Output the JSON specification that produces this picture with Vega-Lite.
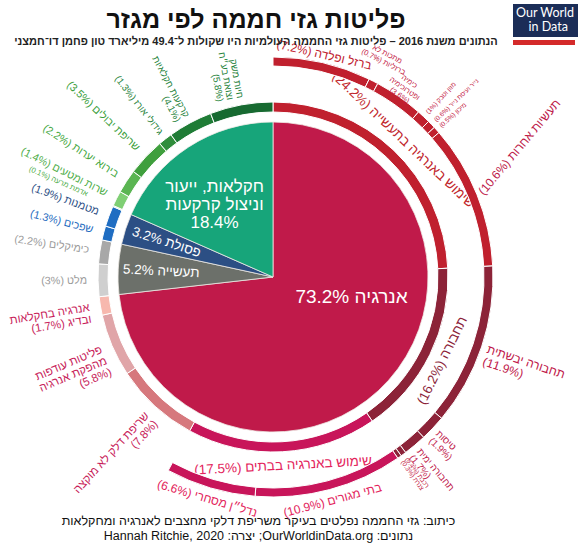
{
  "$schema": "https://vega.github.io/schema/vega-lite/v6.json",
  "width": 546,
  "height": 454,
  "autosize": "none",
  "padding": {"left": 0, "top": 50, "right": 34, "bottom": 45},
  "background": "white",
  "config": {"view": {"stroke": null}, "font": "Liberation Sans"},
  "title": {
    "text": "פליטות גזי חממה לפי מגזר",
    "subtitle": "הנתונים משנת 2016 – פליטות גזי החממה העולמיות היו שקולות ל־49.4 מיליארד טון פחמן דו־חמצני",
    "anchor": "middle",
    "frame": "group",
    "dx": -17,
    "offset": -43,
    "fontSize": 25,
    "fontWeight": "bold",
    "color": "#111111",
    "subtitleFontSize": 11,
    "subtitleFontWeight": "bold",
    "subtitleColor": "#222222",
    "subtitlePadding": 3
  },
  "datasets": {
    "pie": [
      {"name": "energy", "pct": 73.2, "label": "73.2% אנרגיה"},
      {"name": "industry", "pct": 5.2, "label": "5.2% תעשייה"},
      {"name": "waste", "pct": 3.2, "label": "3.2% פסולת"},
      {"name": "agri", "pct": 18.4, "label": "חקלאות, ייעור\nוניצול קרקעות\n18.4%"}
    ],
    "inner": [
      {"name": "en_industry", "pct": 24.2, "label": "(24.2%) שימוש באנרגיה בתעשייה"},
      {"name": "transport", "pct": 16.2, "label": "(16.2%) תחבורה"},
      {"name": "buildings", "pct": 17.5, "label": "(17.5%) שימוש באנרגיה בבתים"},
      {"name": "unallocated", "pct": 7.8, "label": "שריפת דלק לא מוקצה\n(7.8%)"},
      {"name": "fugitive", "pct": 5.8, "label": "פליטות עודפות\nמהפקת אנרגיה\n(5.8%)"},
      {"name": "agfish", "pct": 1.7, "label": "אנרגיה בחקלאות\n(1.7%) ובדיג"},
      {"name": "cement", "pct": 3.0, "label": "(3%) מלט"},
      {"name": "chemicals", "pct": 2.2, "label": "(2.2%) כימיקלים"},
      {"name": "wastewater", "pct": 1.3, "label": "(1.3%) שפכים"},
      {"name": "landfills", "pct": 1.9, "label": "(1.9%) מטמנות"},
      {"name": "grassland", "pct": 0.1, "label": "(0.1%) אדמת מרעה"},
      {"name": "cropland", "pct": 1.4, "label": "(1.4%) שרות ומטעים"},
      {"name": "deforestation", "pct": 2.2, "label": "(2.2%) בירוא יערות"},
      {"name": "cropburning", "pct": 3.5, "label": "(3.5%) שריפת יבולים"},
      {"name": "rice", "pct": 1.3, "label": "(1.3%) גידולי אורז"},
      {"name": "agsoils", "pct": 4.1, "label": "קרקעות חקלאיות\n(4.1%)"},
      {"name": "livestock", "pct": 5.8, "label": "חיות משק\nוצואת בע״ח\n(5.8%)"}
    ],
    "outer": [
      {"name": "iron_steel", "pct": 7.2, "label": "(7.2%) ברזל ופלדה"},
      {"name": "nonferrous", "pct": 0.7, "label": "מתכות לא\n(0.7%) ברזליות"},
      {"name": "chem", "pct": 3.6, "label": "כימיה\nופטרוכימיה\n(3.6%)"},
      {"name": "food", "pct": 1.0, "label": "(1%) מזון וטבק"},
      {"name": "paper", "pct": 0.6, "label": "(0.6%) נייר ועיסת נייר"},
      {"name": "machinery", "pct": 0.5, "label": "(0.5%) מיכון"},
      {"name": "otherind", "pct": 10.6, "label": "(10.6%) תעשיות אחרות"},
      {"name": "road", "pct": 11.9, "label": "תחבורה יבשתית\n(11.9%)"},
      {"name": "aviation", "pct": 1.9, "label": "טיסות\n(1.9%)"},
      {"name": "shipping", "pct": 1.7, "label": "תחבורה ימית\n(1.7%)"},
      {"name": "rail", "pct": 0.4, "label": "(0.4%) רכבת"},
      {"name": "pipeline", "pct": 0.3, "label": "(0.3%) צנרת"},
      {"name": "residential", "pct": 10.9, "label": "(10.9%) בתי מגורים"},
      {"name": "commercial", "pct": 6.6, "label": "(6.6%) נדל״ן מסחרי"}
    ]
  },
  "layer": [
    {
      "data": {"name": "pie"},
      "transform": [
        {"stack": "pct", "groupby": [], "as": ["v0", "v1"]},
        {"calculate": "(datum.v0 + datum.v1) / 2", "as": "mid"},
        {"calculate": "datum.mid * 3.6", "as": "deg"}
      ],
      "layer": [
        {
          "mark": {"type": "arc", "outerRadius": 155, "stroke": "#efebe6", "strokeWidth": 0.8},
          "encoding": {
            "theta": {"field": "v0", "type": "quantitative", "stack": null, "scale": {"domain": [0, 100]}},
            "theta2": {"field": "v1"},
            "fill": {
              "field": "name", "type": "nominal", "legend": null,
              "scale": {"domain": ["energy", "industry", "waste", "agri"], "range": ["#c01a4a", "#6c706a", "#2c4f84", "#17a57a"]}
            }
          }
        },
        {
          "transform": [{"filter": "datum.name === 'energy'"}],
          "mark": {"type": "text", "radius": 30, "align": "left", "baseline": "middle", "fontSize": 19, "fill": "white"},
          "encoding": {
            "theta": {"field": "mid", "type": "quantitative", "stack": null, "scale": {"domain": [0, 100]}},
            "text": {"field": "label"}
          }
        },
        {
          "transform": [{"filter": "datum.name === 'agri'"}],
          "mark": {"type": "text", "radius": 107, "align": "center", "baseline": "middle", "fontSize": 17, "lineBreak": "\n", "lineHeight": 18, "fill": "white"},
          "encoding": {
            "theta": {"field": "mid", "type": "quantitative", "stack": null, "scale": {"domain": [0, 100]}},
            "text": {"field": "label"}
          }
        },
        {
          "transform": [
            {"filter": {"field": "name", "oneOf": ["industry", "waste"]}},
            {"calculate": "datum.deg - 270", "as": "rot"}
          ],
          "mark": {"type": "text", "radius": 112, "align": "center", "baseline": "middle", "fontSize": 13.5, "fill": "white"},
          "encoding": {
            "theta": {"field": "mid", "type": "quantitative", "stack": null, "scale": {"domain": [0, 100]}},
            "angle": {"field": "rot", "type": "quantitative", "scale": null},
            "text": {"field": "label"}
          }
        }
      ]
    },
    {
      "data": {"name": "inner"},
      "transform": [
        {"stack": "pct", "groupby": [], "as": ["v0", "v1"]},
        {"calculate": "(datum.v0 + datum.v1) / 2", "as": "mid"},
        {"calculate": "datum.mid * 3.6", "as": "deg"},
        {"calculate": "datum.deg > 90 && datum.deg < 270 ? datum.deg - 180 : datum.deg", "as": "tan"},
        {"calculate": "datum.deg - 270", "as": "rad"}
      ],
      "layer": [
        {
          "mark": {"type": "arc", "innerRadius": 165, "outerRadius": 175, "stroke": "white", "strokeWidth": 1},
          "encoding": {
            "theta": {"field": "v0", "type": "quantitative", "stack": null, "scale": {"domain": [0, 100]}},
            "theta2": {"field": "v1"},
            "fill": {
              "field": "name", "type": "nominal", "legend": null,
              "scale": {
                "domain": ["en_industry", "transport", "buildings", "unallocated", "fugitive", "agfish", "cement", "chemicals", "wastewater", "landfills", "grassland", "cropland", "deforestation", "cropburning", "rice", "agsoils", "livestock"],
                "range": ["#c0202e", "#8c2338", "#c8155a", "#d6787d", "#e0a5a8", "#f7b8ae", "#cfcfcf", "#a8a8a8", "#1f6dc2", "#1f6dc2", "#a6dc9a", "#7fcf74", "#5ab552", "#3f9f3d", "#2f8d3b", "#1f7c36", "#176a31"]
              }
            }
          }
        },
        {
          "transform": [{"filter": {"field": "name", "oneOf": ["en_industry", "transport", "buildings"]}}],
          "mark": {"type": "text", "radius": 189, "align": "center", "baseline": "middle", "fontSize": 13.5},
          "encoding": {
            "theta": {"field": "mid", "type": "quantitative", "stack": null, "scale": {"domain": [0, 100]}},
            "angle": {"field": "tan", "type": "quantitative", "scale": null},
            "text": {"field": "label"},
            "color": {
              "field": "name", "type": "nominal", "legend": null,
              "scale": {
                "domain": ["en_industry", "transport", "buildings", "unallocated", "fugitive", "agfish", "cement", "chemicals", "wastewater", "landfills", "grassland", "cropland", "deforestation", "cropburning", "rice", "agsoils", "livestock"],
                "range": ["#c1272d", "#8c1f3a", "#e3245c", "#c81d5a", "#c81d5a", "#c81d5a", "#9b9b9b", "#9b9b9b", "#1f6cc0", "#2d4f85", "#4fae4a", "#4fae4a", "#45a83f", "#3a9e3a", "#2f8f3a", "#25823a", "#1f7a34"]
              }
            }
          }
        },
        {
          "transform": [{"filter": {"field": "name", "oneOf": ["unallocated", "fugitive", "agfish"]}}],
          "mark": {"type": "text", "radius": 186, "align": "right", "baseline": "middle", "fontSize": 11.5, "lineBreak": "\n", "lineHeight": 12, "fill": "#c81d5a"},
          "encoding": {
            "theta": {"field": "mid", "type": "quantitative", "stack": null, "scale": {"domain": [0, 100]}},
            "angle": {"field": "rad", "type": "quantitative", "scale": null},
            "text": {"field": "label"}
          }
        },
        {
          "transform": [{"filter": {"field": "name", "oneOf": ["cement", "chemicals", "wastewater", "landfills", "cropland", "deforestation", "cropburning"]}}],
          "mark": {"type": "text", "radius": 186, "align": "right", "baseline": "middle", "fontSize": 10.8},
          "encoding": {
            "theta": {"field": "mid", "type": "quantitative", "stack": null, "scale": {"domain": [0, 100]}},
            "angle": {"field": "rad", "type": "quantitative", "scale": null},
            "text": {"field": "label"},
            "color": {
              "field": "name", "type": "nominal", "legend": null,
              "scale": {
                "domain": ["en_industry", "transport", "buildings", "unallocated", "fugitive", "agfish", "cement", "chemicals", "wastewater", "landfills", "grassland", "cropland", "deforestation", "cropburning", "rice", "agsoils", "livestock"],
                "range": ["#c1272d", "#8c1f3a", "#e3245c", "#c81d5a", "#c81d5a", "#c81d5a", "#9b9b9b", "#9b9b9b", "#1f6cc0", "#2d4f85", "#4fae4a", "#4fae4a", "#45a83f", "#3a9e3a", "#2f8f3a", "#25823a", "#1f7a34"]
              }
            }
          }
        },
        {
          "transform": [{"filter": {"field": "name", "oneOf": ["rice", "agsoils", "livestock"]}}],
          "mark": {"type": "text", "radius": 182, "align": "right", "baseline": "middle", "fontSize": 9.5, "lineBreak": "\n", "lineHeight": 10, "fill": "#25823a"},
          "encoding": {
            "theta": {"field": "mid", "type": "quantitative", "stack": null, "scale": {"domain": [0, 100]}},
            "angle": {"field": "rad", "type": "quantitative", "scale": null},
            "text": {"field": "label"}
          }
        },
        {
          "transform": [{"filter": "datum.name === 'grassland'"}],
          "mark": {"type": "text", "radius": 203, "align": "right", "baseline": "middle", "fontSize": 7.5, "fill": "#4fae4a"},
          "encoding": {
            "theta": {"field": "mid", "type": "quantitative", "stack": null, "scale": {"domain": [0, 100]}},
            "angle": {"field": "rad", "type": "quantitative", "scale": null},
            "text": {"field": "label"}
          }
        }
      ]
    },
    {
      "data": {"name": "outer"},
      "transform": [
        {"stack": "pct", "groupby": [], "as": ["v0", "v1"]},
        {"calculate": "(datum.v0 + datum.v1) / 2", "as": "mid"},
        {"calculate": "datum.mid * 3.6", "as": "deg"},
        {"calculate": "datum.deg > 90 && datum.deg < 270 ? datum.deg - 180 : datum.deg", "as": "tan"},
        {"calculate": "datum.deg - 90", "as": "rad"}
      ],
      "layer": [
        {
          "mark": {"type": "arc", "innerRadius": 211, "outerRadius": 220, "stroke": "white", "strokeWidth": 1},
          "encoding": {
            "theta": {"field": "v0", "type": "quantitative", "stack": null, "scale": {"domain": [0, 100]}},
            "theta2": {"field": "v1"},
            "fill": {
              "field": "name", "type": "nominal", "legend": null,
              "scale": {
                "domain": ["iron_steel", "nonferrous", "chem", "food", "paper", "machinery", "otherind", "road", "aviation", "shipping", "rail", "pipeline", "residential", "commercial"],
                "range": ["#c0202e", "#c0202e", "#c0202e", "#c0202e", "#c0202e", "#c0202e", "#c0202e", "#8c2338", "#8c2338", "#8c2338", "#8c2338", "#8c2338", "#c8155a", "#c8155a"]
              }
            }
          }
        },
        {
          "transform": [{"filter": "datum.name === 'iron_steel'"}],
          "mark": {"type": "text", "radius": 228, "align": "center", "baseline": "middle", "fontSize": 12, "fill": "#c0202e"},
          "encoding": {
            "theta": {"field": "mid", "type": "quantitative", "stack": null, "scale": {"domain": [0, 100]}},
            "angle": {"field": "tan", "type": "quantitative", "scale": null},
            "text": {"field": "label"}
          }
        },
        {
          "transform": [{"filter": "datum.name === 'nonferrous'"}],
          "mark": {"type": "text", "radius": 250, "align": "center", "baseline": "middle", "fontSize": 7.5, "lineBreak": "\n", "lineHeight": 8.5, "fill": "#c41a44"},
          "encoding": {
            "theta": {"field": "mid", "type": "quantitative", "stack": null, "scale": {"domain": [0, 100]}},
            "angle": {"field": "tan", "type": "quantitative", "scale": null},
            "text": {"field": "label"}
          }
        },
        {
          "transform": [{"filter": "datum.name === 'chem'"}],
          "mark": {"type": "text", "radius": 238, "align": "center", "baseline": "middle", "fontSize": 7.5, "lineBreak": "\n", "lineHeight": 8.5, "fill": "#c41a44"},
          "encoding": {
            "theta": {"field": "mid", "type": "quantitative", "stack": null, "scale": {"domain": [0, 100]}},
            "angle": {"field": "tan", "type": "quantitative", "scale": null},
            "text": {"field": "label"}
          }
        },
        {
          "transform": [{"filter": "datum.name === 'otherind'"}],
          "mark": {"type": "text", "radius": 224, "align": "left", "baseline": "middle", "fontSize": 12, "angle": -50, "fill": "#bd1848"},
          "encoding": {
            "theta": {"field": "mid", "type": "quantitative", "stack": null, "scale": {"domain": [0, 100]}},
            "text": {"field": "label"}
          }
        },
        {
          "transform": [{"filter": "datum.name === 'road'"}],
          "mark": {"type": "text", "radius": 226, "align": "left", "baseline": "middle", "fontSize": 12, "lineBreak": "\n", "lineHeight": 13, "fill": "#c0174a"},
          "encoding": {
            "theta": {"field": "mid", "type": "quantitative", "stack": null, "scale": {"domain": [0, 100]}},
            "angle": {"field": "rad", "type": "quantitative", "scale": null},
            "text": {"field": "label"}
          }
        },
        {
          "transform": [{"filter": {"field": "name", "oneOf": ["aviation", "shipping"]}}],
          "mark": {"type": "text", "radius": 226, "align": "left", "baseline": "middle", "fontSize": 9.5, "lineBreak": "\n", "lineHeight": 10, "fill": "#c0174a"},
          "encoding": {
            "theta": {"field": "mid", "type": "quantitative", "stack": null, "scale": {"domain": [0, 100]}},
            "angle": {"field": "rad", "type": "quantitative", "scale": null},
            "text": {"field": "label"}
          }
        },
        {
          "transform": [{"filter": {"field": "name", "oneOf": ["food", "paper", "machinery", "rail", "pipeline"]}}],
          "mark": {"type": "text", "radius": 225, "align": "left", "baseline": "middle", "fontSize": 6.5, "fill": "#c41a44"},
          "encoding": {
            "theta": {"field": "mid", "type": "quantitative", "stack": null, "scale": {"domain": [0, 100]}},
            "angle": {"field": "rad", "type": "quantitative", "scale": null},
            "text": {"field": "label"}
          }
        },
        {
          "transform": [{"filter": {"field": "name", "oneOf": ["residential", "commercial"]}}],
          "mark": {"type": "text", "radius": 231, "align": "center", "baseline": "middle", "fontSize": 12, "fill": "#e3245c"},
          "encoding": {
            "theta": {"field": "mid", "type": "quantitative", "stack": null, "scale": {"domain": [0, 100]}},
            "angle": {"field": "tan", "type": "quantitative", "scale": null},
            "text": {"field": "label"}
          }
        }
      ]
    },
    {
      "data": {"values": [{"brand": "in Data"}]},
      "mark": {"type": "point", "opacity": 0, "size": 1},
      "encoding": {
        "x": {
          "field": "brand", "type": "nominal",
          "axis": {
            "title": ["כיתוב: גזי החממה נפלטים בעיקר משריפת דלקי מחצבים לאנרגיה ומחקלאות", "Hannah Ritchie, 2020 :יצרה ;OurWorldinData.org :נתונים"],
            "labels": false, "ticks": false, "domain": false,
            "titleFontSize": 12.5, "titleFontWeight": "normal", "titleColor": "#111111",
            "titlePadding": 10, "titleX": 258, "titleLineHeight": 15
          }
        },
        "shape": {
          "field": "brand", "type": "nominal",
          "legend": {
            "title": "Our World", "orient": "none", "legendX": 513, "legendY": -46,
            "fillColor": "#1b2d57", "padding": 3,
            "titleColor": "white", "titleFont": "Lato", "titleFontSize": 12.5, "titleFontWeight": "normal", "titlePadding": 1,
            "labelColor": "white", "labelFont": "Lato", "labelFontSize": 12.5, "labelOffset": 0,
            "symbolSize": 0, "symbolOpacity": 0, "symbolStrokeWidth": 0
          }
        },
        "stroke": {
          "datum": 1, "type": "quantitative",
          "scale": {"domain": [0, 1], "range": ["#d42a2a", "#d42a2a"]},
          "legend": {
            "orient": "none", "legendX": 513, "legendY": -10, "direction": "horizontal",
            "title": null, "padding": 0, "gradientLength": 62, "gradientThickness": 5,
            "gradientStrokeWidth": 0, "labelOpacity": 0, "labelFontSize": 1, "tickCount": 2
          }
        }
      }
    }
  ],
  "resolve": {"scale": {"fill": "independent", "color": "independent", "shape": "independent"}}
}
